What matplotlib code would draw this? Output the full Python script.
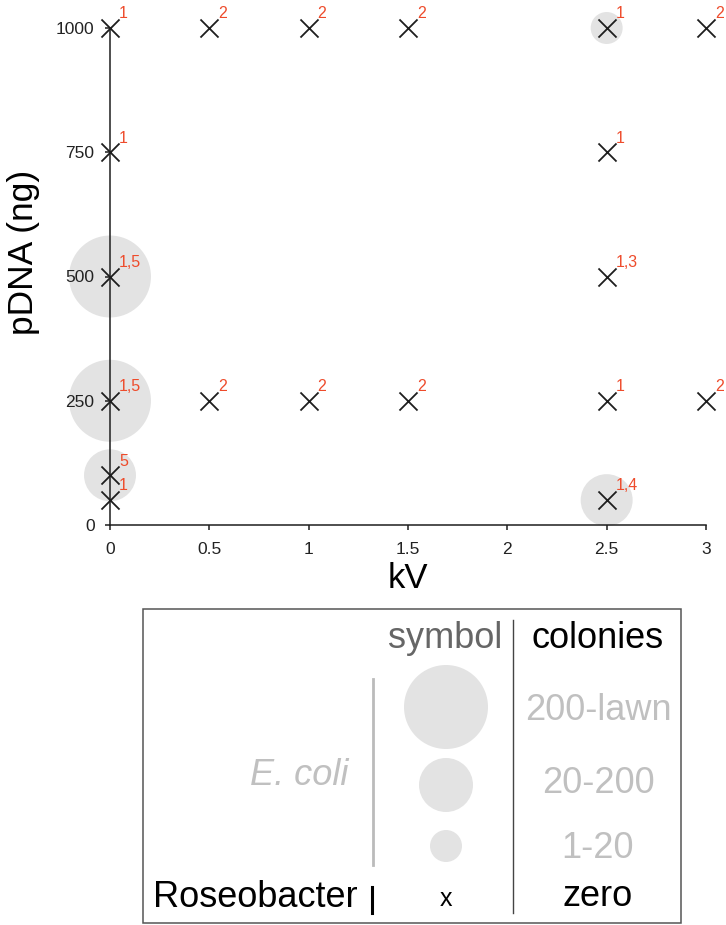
import matplotlib
matplotlib.use("Agg")
import matplotlib.pyplot as plt
from matplotlib.patches import Circle, Rectangle

plt.rcParams["font.family"] = ["Liberation Sans", "DejaVu Sans"]

# 数据：电压 (kV)、质粒量 (ng)、参考文献编号、E. coli 菌落等级
kv = [0, 0, 0, 0, 0, 0, 0.5, 0.5, 1, 1, 1.5, 1.5, 2.5, 2.5, 2.5, 2.5, 2.5, 3, 3]
dna = [1000, 750, 500, 250, 100, 50, 1000, 250, 1000, 250, 1000, 250,
       1000, 750, 500, 250, 50, 1000, 250]
refs = ["1", "1", "1,5", "1,5", "5", "1", "2", "2", "2", "2", "2", "2",
        "1", "1", "1,3", "1", "1,4", "2", "2"]
# 0 = 无, 1 = 1-20, 2 = 20-200, 3 = 200-lawn
ecoli_class = [0, 0, 3, 3, 2, 0, 0, 0, 0, 0, 0, 0, 1, 0, 0, 0, 2, 0, 0]

xticks = [0, 0.5, 1, 1.5, 2, 2.5, 3]
yticks = [0, 250, 500, 750, 1000]
colony_labels = ["200-lawn", "20-200", "1-20"]

CIRCLE = "#e3e3e3"
RED = "#ee4b2b"
DARK = "#1e1e1e"
size_map = {1: 530, 2: 1400, 3: 3481}

fig = plt.figure(figsize=(7.26, 9.25), dpi=100)
ax = fig.add_axes([110 / 726, 400 / 925, 596 / 726, 497 / 925])

# 灰色圆：E. coli 菌落
for x, y, c in zip(kv, dna, ecoli_class):
    if c > 0:
        ax.scatter(x, y, s=size_map[c], color=CIRCLE, edgecolors="none",
                   zorder=1, clip_on=False)

ax.scatter(kv, dna, marker="x", s=13 ** 2, color=DARK, linewidths=1.3,
           zorder=3, clip_on=False)

for x, y, r in zip(kv, dna, refs):
    ax.annotate(r, (x, y), xytext=(6.5, 7), textcoords="offset points",
                ha="left", va="baseline", color=RED, fontsize=11.5,
                annotation_clip=False, zorder=4)

ax.set_xlim(0, 3)
ax.set_ylim(0, 1000)
ax.set_xticks(xticks)
ax.set_xticklabels(["0", "0.5", "1", "1.5", "2", "2.5", "3"])
ax.set_yticks(yticks)
for s in ["top", "right"]:
    ax.spines[s].set_visible(False)
for s in ["left", "bottom"]:
    ax.spines[s].set_color(DARK)
    ax.spines[s].set_linewidth(1.1)
ax.tick_params(direction="out", length=3.6, width=1.1, color=DARK,
               labelsize=12.5, labelcolor="#222222")
ax.tick_params(axis="x", pad=8.5)
ax.tick_params(axis="y", pad=7.5)
ax.set_xlabel("kV", fontsize=25)
ax.xaxis.set_label_coords(0.5, -0.074)
fig.text(23 / 726, 1 - 252 / 925, "pDNA (ng)", rotation=90, fontsize=25.5,
         ha="center", va="center")

# 图例（用像素坐标画在整张图上）
lax = fig.add_axes([0, 0, 1, 1], zorder=-1)
lax.set_xlim(0, 726)
lax.set_ylim(925, 0)
lax.axis("off")

lax.add_patch(Rectangle((143, 609), 538, 314, fill=False,
                        edgecolor="#555555", linewidth=1.1))
lax.plot([513, 513], [620, 913], color="#444444", lw=1.0)
lax.plot([373, 373], [679, 865], color="#bbbbbb", lw=2.0)
lax.plot([372, 372], [887, 913], color="black", lw=2.2)

lax.text(445, 648, "symbol", ha="center", va="baseline", fontsize=26,
         color="#666666")
lax.text(598, 648, "colonies", ha="center", va="baseline", fontsize=26,
         color="black")

for (cy, r), lab, by in zip([(707, 42), (785, 27), (846, 16)],
                            colony_labels, [720, 793, 858]):
    lax.add_patch(Circle((446, cy), r, color=CIRCLE, ec="none"))
    lax.text(598, by, lab, ha="center", va="baseline", fontsize=26,
             color="#c0c0c0")

lax.text(299, 785, "E. coli", ha="center", va="baseline", fontsize=26,
         color="#c0c0c0", style="italic")
lax.text(358, 907, "Roseobacter", ha="right", va="baseline", fontsize=26,
         color="black")
lax.text(446, 906, "x", ha="center", va="baseline", fontsize=18,
         color="black")
lax.text(598, 906, "zero", ha="center", va="baseline", fontsize=26,
         color="black")

fig.savefig("out.png", dpi=100)
